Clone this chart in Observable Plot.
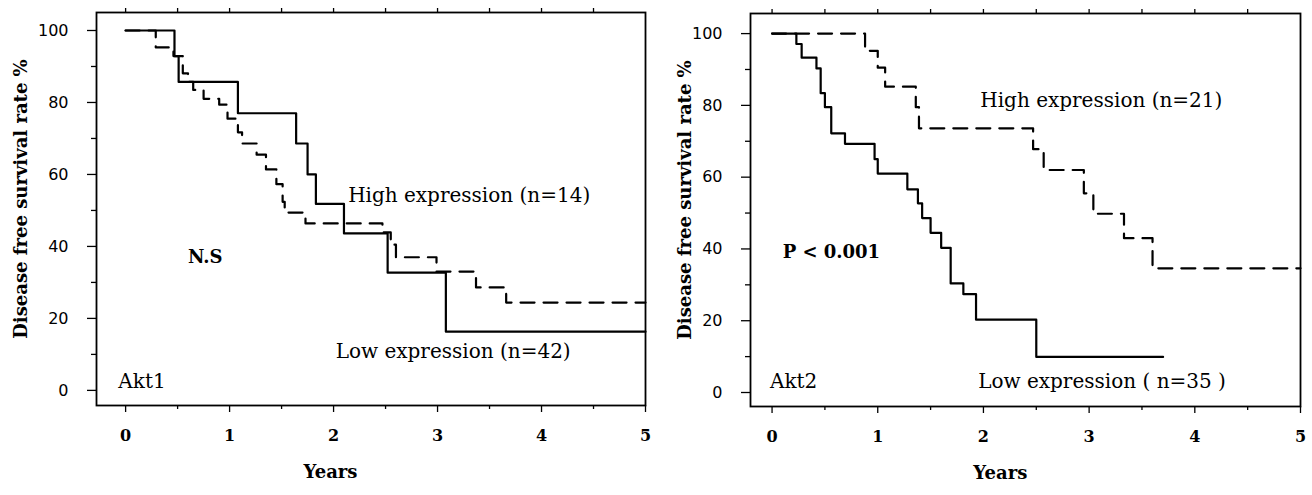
<!DOCTYPE html>
<html><head><meta charset="utf-8">
<script src="https://cdn.jsdelivr.net/npm/d3@7"></script>
<script src="https://cdn.jsdelivr.net/npm/@observablehq/plot@0.6"></script>
<style>
body{margin:0;background:#fff;}
#wrap{display:flex;width:1312px;height:495px;}
</style></head><body><div id="wrap"></div>
<script>
// ---- tick labels ----
const yearTicks = [0, 1, 2, 3, 4, 5];
const yearMinorTicks = [0.5, 1.5, 2.5, 3.5, 4.5];
const yearTopTicks = [0, 0.5, 1, 1.5, 2, 2.5, 3, 3.5, 4, 4.5];
const rateTicks = [0, 20, 40, 60, 80, 100];
const rateMinorTicks = [10, 30, 50, 70, 90];

// ---- Akt1 panel ----
const akt1HighYears = [0, 0.47, 0.51, 1.08, 1.64, 1.75, 1.83, 2.10, 2.52, 3.08, 5.0];
const akt1HighRate  = [100, 92.9, 85.7, 77.0, 68.6, 60.0, 51.8, 43.6, 32.7, 16.3, 16.3];
const akt1LowYears = [0, 0.29, 0.46, 0.55, 0.60, 0.65, 0.75, 0.90, 0.98, 1.08, 1.12, 1.26, 1.35, 1.45, 1.51, 1.53, 1.73, 2.47, 2.55, 2.60, 2.99, 3.37, 3.66, 5.0];
const akt1LowRate  = [100, 95.3, 92.9, 88.1, 85.7, 83.5, 81.0, 79.4, 75.5, 71.7, 68.6, 65.5, 61.4, 57.3, 52.4, 49.4, 46.4, 43.9, 40.5, 37.0, 33.0, 28.6, 24.4, 24.4];

// ---- Akt2 panel ----
const akt2HighYears = [0, 0.88, 1.00, 1.07, 1.36, 1.39, 2.47, 2.57, 2.95, 3.04, 3.33, 3.60, 5.0];
const akt2HighRate  = [100, 95.2, 90.5, 85.2, 79.5, 73.6, 67.8, 62.0, 55.5, 49.8, 43.0, 34.6, 34.6];
const akt2LowYears = [0, 0.23, 0.28, 0.42, 0.46, 0.50, 0.56, 0.69, 0.97, 1.00, 1.28, 1.38, 1.42, 1.50, 1.60, 1.69, 1.81, 1.93, 2.50, 3.70];
const akt2LowRate  = [100, 97.1, 93.3, 90.3, 83.4, 79.5, 72.2, 69.3, 65.0, 61.0, 56.6, 52.7, 48.6, 44.5, 40.3, 30.4, 27.4, 20.3, 9.9, 9.9];

const toSeries = (years, rates) => years.map((t, i) => ({t, s: rates[i]}));

function label(text, x, y, extra = {}) {
  return Plot.text([text], {x: () => x, y: () => y, text: d => d, textAnchor: "start", fontSize: 20, fill: "black", ...extra});
}

function panel(cfg) {
  return Plot.plot({
    width: 656, height: 495,
    marginLeft: cfg.ml, marginRight: cfg.mr, marginTop: cfg.mt, marginBottom: cfg.mb,
    x: {domain: cfg.xDomain},
    y: {domain: cfg.yDomain},
    style: {fontFamily: "'DejaVu Serif', serif", fontSize: "16px", background: "white", color: "black", overflow: "visible"},
    marks: [
      Plot.frame({stroke: "black", strokeWidth: 1.8}),
      Plot.axisY(rateTicks, {tickSize: 9, tickPadding: 19, fontSize: 16, fontFamily: "'DejaVu Sans', sans-serif", label: null, strokeWidth: 1.3}),
      Plot.axisY(rateMinorTicks, {tickSize: 5, tickFormat: () => "", label: null, strokeWidth: 1.3}),
      Plot.axisX(yearTicks, {tickSize: 7, tickPadding: 17, fontSize: 16, fontWeight: "bold", label: null, strokeWidth: 1.3}),
      Plot.axisX(yearMinorTicks, {tickSize: 4, tickFormat: () => "", label: null, strokeWidth: 1.3}),
      Plot.axisX(yearTopTicks, {anchor: "top", tickSize: 5, tickFormat: () => "", label: null, strokeWidth: 1.3}),
      Plot.line(cfg.dashed, {x: "t", y: "s", curve: "step-after", stroke: "black", strokeWidth: 2.2, strokeDasharray: "14,9"}),
      Plot.line(cfg.solid, {x: "t", y: "s", curve: "step-after", stroke: "black", strokeWidth: 2.2}),
      Plot.text(["Disease free survival rate %"], {frameAnchor: "left", textAnchor: "middle", dx: cfg.yTitleDx, dy: -10, rotate: -90, text: d => d, fontSize: 18, fontWeight: "bold", fill: "black"}),
      Plot.text(["Years"], {x: () => cfg.yearsX, frameAnchor: "bottom", dy: 72, text: d => d, fontSize: 18, fontWeight: "bold", fill: "black"}),
      ...cfg.labels
    ]
  });
}

const wrap = document.getElementById("wrap");
wrap.appendChild(panel({
  ml: 96, mr: 11, mt: 12, mb: 90,
  xDomain: [-0.28, 5], yDomain: [-4.2, 105],
  solid: toSeries(akt1HighYears, akt1HighRate),
  dashed: toSeries(akt1LowYears, akt1LowRate),
  yTitleDx: -75, yearsX: 1.97,
  labels: [
    label("High expression (n=14)", 2.14, 54),
    label("N.S", 0.6, 37, {fontWeight: "bold", fontSize: 18}),
    label("Low expression (n=42)", 2.02, 10.8),
    label("Akt1", -0.07, 2.5)
  ]
}));
wrap.appendChild(panel({
  ml: 94, mr: 12, mt: 13, mb: 89,
  xDomain: [-0.204, 5], yDomain: [-3.9, 105.6],
  solid: toSeries(akt2LowYears, akt2LowRate),
  dashed: toSeries(akt2HighYears, akt2HighRate),
  yTitleDx: -65, yearsX: 2.16,
  labels: [
    label("High expression (n=21)", 1.97, 81.3),
    label("P < 0.001", 0.1, 39, {fontWeight: "bold", fontSize: 18}),
    label("Akt2", -0.02, 3.1),
    label("Low expression ( n=35 )", 1.95, 3.1)
  ]
}));
</script></body></html>
